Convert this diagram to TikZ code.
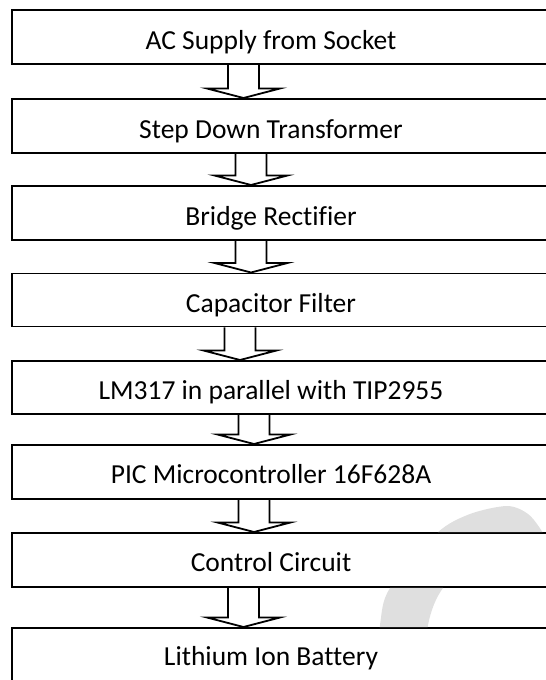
\documentclass[tikz,border=0pt]{standalone}
\usepackage{fontspec}
\setmainfont{Carlito}[Ligatures=CommonOff]
\usetikzlibrary{calc}

\begin{document}
\begin{tikzpicture}[x=1pt, y=-1pt, line width=1.8pt,
    blk/.style={draw=black, fill=white, minimum width=560pt, minimum height=54pt,
      anchor=north west, inner sep=0pt},
    txt/.style={anchor=base, inner sep=0pt, font=\fontsize{27.5}{33}\selectfont},
    blkarrow/.style={draw=black, line join=miter}]
  \useasboundingbox (0,0) rectangle (546,680);
  \clip (0,0) rectangle (546,680);
  \node[blk] (b1) at (11,9) {};
  \node[blk] (b2) at (11,98) {};
  \node[blk] (b3) at (11,185) {};
  \node[blk, minimum height=53pt] (b4) at (11,272.5) {};
  \node[blk, minimum height=53pt] (b5) at (11,360) {};
  \node[blk] (b6) at (11,444) {};
  \node[blk] (b7) at (11,532) {};
  \node[blk, minimum height=53.5pt] (b8) at (11,627) {};
  % faint mark, seen only between the lower boxes
  \begin{scope}
    \clip (0,0 |- b6.south) rectangle (546,0 |- b7.north)
          (0,0 |- b7.south) rectangle (546,0 |- b8.north);
    \fill[gray!25] plot[smooth] coordinates {(374,700) (380,625) (390,588) (437,533)
        (470,514) (507,506) (528,514) (543,533) (562,568)}
      -- plot[smooth] coordinates {(562,580) (520,552) (475,562) (443,588) (428,625) (421,700)}
      -- cycle;
  \end{scope}
  \node[txt] (t1) at ($(b1.north west)+(260,40)$) {AC Supply from Socket};
  \node[txt] (t2) at ($(b2.north west)+(260,40)$) {Step Down Transformer};
  \node[txt] (t3) at ($(b3.north west)+(260,40)$) {Bridge Rectifier};
  \node[txt] (t4) at ($(b4.north west)+(260,39.5)$) {Capacitor Filter};
  \node[txt] (t5) at ($(b5.north west)+(260,39)$) {LM317 in parallel with TIP2955};
  \node[txt] (t6) at ($(b6.north west)+(260,39.5)$) {PIC Microcontroller 16F628A};
  \node[txt] (t7) at ($(b7.north west)+(260,39.5)$) {Control Circuit};
  \node[txt] (t8) at ($(b8.north west)+(260,38.5)$) {Lithium Ion Battery};
  % hollow block arrows between the stages
  \foreach \i/\j/\ax in {1/2/243.5, 2/3/251, 3/4/251, 4/5/240, 5/6/254, 6/7/254, 7/8/243.5} {
    \coordinate (top) at (\ax,0 |- b\i.south);
    \coordinate (tip) at (\ax,0 |- b\j.north);
    \draw[blkarrow] ($(top)+(-15.5,0)$) -- ($(tip)+(-15.5,-9.5)$) -- ($(tip)+(-36.5,-9.5)$)
      -- (tip) -- ($(tip)+(36.5,-9.5)$) -- ($(tip)+(15.5,-9.5)$) -- ($(top)+(15.5,0)$);
  }
\end{tikzpicture}
\end{document}
